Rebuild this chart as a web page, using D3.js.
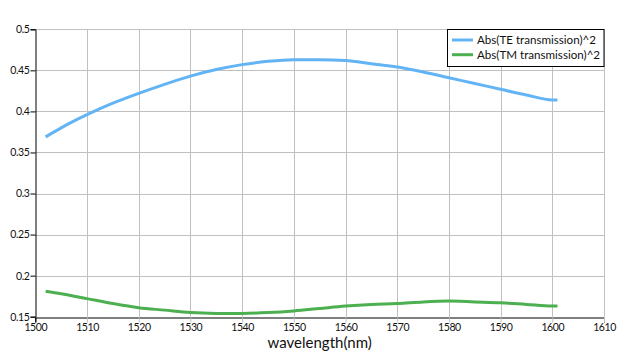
<!DOCTYPE html>
<html><head><meta charset="utf-8">
<script src="https://cdn.jsdelivr.net/npm/d3@7"></script>
<style>body{margin:0;background:#fff}svg{display:block}</style>
</head><body>
<svg id="c" width="634" height="358"></svg>
<script>
const wavelength = [1502,1505,1510,1515,1520,1525,1530,1535,1540,1545,1550,1555,1560,1565,1570,1575,1580,1585,1590,1595,1600,1601];
const teValues = [0.369,0.380,0.396,0.410,0.422,0.433,0.443,0.451,0.457,0.461,0.463,0.463,0.462,0.458,0.454,0.448,0.441,0.434,0.427,0.420,0.414,0.414];
const tmValues = [0.181,0.178,0.172,0.166,0.161,0.158,0.155,0.154,0.154,0.155,0.157,0.160,0.163,0.165,0.166,0.168,0.169,0.168,0.167,0.165,0.163,0.163];
const seriesNames = ["Abs(TE transmission)^2","Abs(TM transmission)^2"];
const xTicks = [1500,1510,1520,1530,1540,1550,1560,1570,1580,1590,1600,1610];
const yTicks = [0.15,0.2,0.25,0.3,0.35,0.4,0.45,0.5];
const xLabel = "wavelength(nm)";

const colors = ["#63b4f5","#4caf50"];
const svg = d3.select("#c");
const m = {l:35.3, t:29.3, r:604, b:316.7};
const x = d3.scaleLinear().domain([1500,1610]).range([m.l,m.r]);
const y = d3.scaleLinear().domain([0.15,0.5]).range([m.b,m.t]);
const font = "Lato, 'Open Sans', sans-serif";

// grid
svg.append("g").selectAll("line").data(xTicks.slice(1)).join("line")
  .attr("x1",d=>Math.round(x(d))+0.5).attr("x2",d=>Math.round(x(d))+0.5)
  .attr("y1",m.t).attr("y2",m.b).attr("stroke","#c0c0c0").attr("stroke-width",1);
svg.append("g").selectAll("line").data(yTicks.slice(1)).join("line")
  .attr("y1",d=>Math.round(y(d))+0.5).attr("y2",d=>Math.round(y(d))+0.5)
  .attr("x1",m.l).attr("x2",m.r).attr("stroke","#c0c0c0").attr("stroke-width",1);

// axes
const xAxis = d3.axisBottom(x).tickValues(xTicks).tickSize(5).tickFormat(d3.format("d"));
const yAxis = d3.axisLeft(y).tickValues(yTicks).tickSize(5).tickFormat(d=>String(+d.toFixed(2)));
const gx = svg.append("g").attr("transform",`translate(0,${Math.round(m.b)+0.5})`).call(xAxis);
const gy = svg.append("g").attr("transform",`translate(${Math.round(m.l)+0.5},0)`).call(yAxis);
gx.select(".domain").attr("stroke","#000");
gy.select(".domain").attr("stroke","#000");
gx.selectAll(".tick line").attr("stroke","#000");
gy.selectAll(".tick line").attr("stroke","#000");
gx.selectAll(".tick text").attr("font-family",font).attr("font-size",10.5).attr("letter-spacing","-0.4px")
  .attr("fill","#111").attr("y",6).attr("dy","0.75em");
gy.selectAll(".tick text").attr("font-family",font).attr("font-size",10.5).attr("letter-spacing","-0.4px")
  .attr("fill","#111").attr("x",-6);
gx.selectAll(".tick line").filter(d=>d>1500).attr("stroke","#c0c0c0");

// lines
const line = d3.line().x((d,i)=>x(wavelength[i])).y(d=>y(d)).curve(d3.curveMonotoneX);
[teValues,tmValues].forEach((vals,k)=>{
  svg.append("path").datum(vals).attr("d",line).attr("fill","none")
    .attr("stroke",colors[k]).attr("stroke-width",3);
});

// x label
svg.append("text").attr("x",(m.l+m.r)/2).attr("y",347.5).attr("text-anchor","middle")
  .attr("font-family",font).attr("font-size",15).attr("fill","#111").text(xLabel);

// legend
const lg = svg.append("g");
lg.append("rect").attr("x",447.5).attr("y",29.5).attr("width",156.5).attr("height",37)
  .attr("fill","#fff").attr("stroke","#000").attr("stroke-width",1);
seriesNames.forEach((n,i)=>{
  const yy = 40 + i*14.7;
  lg.append("line").attr("x1",452).attr("x2",473).attr("y1",yy).attr("y2",yy)
    .attr("stroke",colors[i]).attr("stroke-width",3);
  lg.append("text").attr("x",477).attr("y",yy).attr("dy","0.35em")
    .attr("font-family",font).attr("font-size",11.6).attr("fill","#111").text(n);
});
</script>
</body></html>
